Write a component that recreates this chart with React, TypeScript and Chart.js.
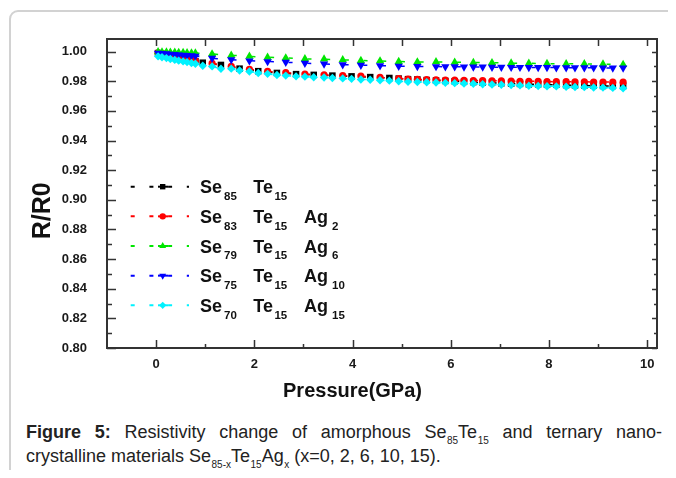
import React, { useEffect, useRef } from 'react';
import { Chart, registerables } from 'chart.js';
import { drawPoint } from 'chart.js/helpers';

Chart.register(...registerables);

// ---------------- data ----------------
const BLACK_X = [0.04, 0.12, 0.21, 0.29, 0.38, 0.46, 0.55, 0.63, 0.72, 0.80,
  0.95, 1.32, 1.70, 2.08, 2.46, 2.85, 3.21, 3.59, 3.98, 4.36, 4.75,
  4.94, 5.13, 5.32, 5.51, 5.70, 5.89, 6.08, 6.27, 6.46, 6.65, 6.84, 7.03, 7.23, 7.41, 7.59, 7.78, 7.96, 8.15, 8.35, 8.53, 8.72, 8.91, 9.10, 9.30, 9.51];
const BLACK_Y = [0.9990, 0.9985, 0.9978, 0.9972, 0.9965, 0.9958, 0.9952, 0.9946, 0.9940, 0.9935,
  0.9925, 0.9910, 0.9885, 0.9868, 0.9856, 0.9848, 0.9843, 0.9838, 0.9833, 0.9828, 0.9822,
  0.9818, 0.9814, 0.9812, 0.9808, 0.9806, 0.9802, 0.9800, 0.9796, 0.9794, 0.9790, 0.9789, 0.9786, 0.9783, 0.9782, 0.9779, 0.9779, 0.9776, 0.9776, 0.9774, 0.9772, 0.9771, 0.9770, 0.9768, 0.9768, 0.9767];

const RED_X = [0.04, 0.12, 0.21, 0.29, 0.38, 0.46, 0.55, 0.63, 0.72, 0.80,
  1.14, 1.53, 1.90, 2.27, 2.64, 3.03, 3.42, 3.80, 4.17, 4.56,
  4.94, 5.13, 5.32, 5.51, 5.70, 5.89, 6.08, 6.27, 6.46, 6.65, 6.84, 7.03, 7.23, 7.41, 7.59, 7.78, 7.96, 8.15, 8.35, 8.53, 8.72, 8.91, 9.10, 9.30, 9.51];
const RED_Y = [0.9992, 0.9987, 0.9980, 0.9973, 0.9966, 0.9960, 0.9954, 0.9948, 0.9943, 0.9938,
  0.9920, 0.9900, 0.9881, 0.9866, 0.9858, 0.9848, 0.9843, 0.9838, 0.9835, 0.9826,
  0.9818, 0.9815, 0.9813, 0.9811, 0.9810, 0.9808, 0.9807, 0.9806, 0.9805, 0.9804, 0.9803, 0.9802, 0.9801, 0.9800, 0.9800, 0.9799, 0.9798, 0.9797, 0.9797, 0.9796, 0.9796, 0.9795, 0.9795, 0.9794, 0.9794];

const GREEN_X = [0.04, 0.12, 0.21, 0.29, 0.38, 0.46, 0.55, 0.63, 0.72, 0.80,
  1.14, 1.53, 1.90, 2.27, 2.64, 3.03, 3.42, 3.80, 4.17, 4.56, 4.94, 5.32, 5.70, 6.08, 6.46, 6.84, 7.23, 7.59, 7.96, 8.35, 8.72, 9.10, 9.51];
const GREEN_Y = [0.9998, 0.9997, 0.9997, 0.9996, 0.9995, 0.9994, 0.9993, 0.9992, 0.9991, 0.9990,
  0.9984, 0.9975, 0.9968, 0.9962, 0.9957, 0.9951, 0.9949, 0.9944, 0.9940, 0.9937, 0.9933, 0.9930, 0.9931, 0.9928, 0.9926, 0.9925, 0.9922, 0.9921, 0.9919, 0.9918, 0.9917, 0.9916, 0.9912];

const BLUE_X = [0.04, 0.12, 0.21, 0.29, 0.38, 0.46, 0.55, 0.63, 0.72, 0.80,
  1.14, 1.53, 1.90, 2.27, 2.64, 3.03, 3.42, 3.80, 4.17, 4.56, 4.94, 5.32,
  5.70, 5.89, 6.08, 6.27, 6.46, 6.65, 6.84, 7.03, 7.23, 7.41, 7.59, 7.78, 7.96, 8.15, 8.35, 8.53, 8.72, 8.91, 9.10, 9.30, 9.51];
const BLUE_Y = [0.9990, 0.9988, 0.9986, 0.9983, 0.9981, 0.9978, 0.9976, 0.9974, 0.9972, 0.9970,
  0.9955, 0.9945, 0.9938, 0.9933, 0.9928, 0.9922, 0.9917, 0.9912, 0.9909, 0.9905, 0.9902, 0.9900,
  0.9899, 0.9898, 0.9898, 0.9897, 0.9896, 0.9896, 0.9895, 0.9895, 0.9894, 0.9894, 0.9893, 0.9893, 0.9893, 0.9892, 0.9892, 0.9891, 0.9891, 0.9891, 0.9890, 0.9890, 0.9890];

const CYAN_X = [0.04, 0.12, 0.21, 0.29, 0.38, 0.46, 0.55, 0.63, 0.72, 0.80,
  0.95, 1.14, 1.32, 1.53, 1.70, 1.90, 2.08, 2.27, 2.46, 2.64, 2.85, 3.03, 3.21, 3.42, 3.59, 3.80, 3.98, 4.17, 4.36, 4.56, 4.75,
  4.94, 5.13, 5.32, 5.51, 5.70, 5.89, 6.08, 6.27, 6.46, 6.65, 6.84, 7.03, 7.23, 7.41, 7.59, 7.78, 7.96, 8.15, 8.35, 8.53, 8.72, 8.91, 9.10, 9.30, 9.51];
const CYAN_Y = [0.9968, 0.9962, 0.9956, 0.9950, 0.9944, 0.9939, 0.9934, 0.9929, 0.9923, 0.9918,
  0.9905, 0.9900, 0.9884, 0.9885, 0.9872, 0.9866, 0.9856, 0.9850, 0.9842, 0.9838, 0.9833, 0.9831, 0.9827, 0.9825, 0.9822, 0.9819, 0.9816, 0.9812, 0.9810, 0.9807, 0.9804,
  0.9800, 0.9797, 0.9795, 0.9793, 0.9791, 0.9789, 0.9787, 0.9785, 0.9783, 0.9780, 0.9778, 0.9776, 0.9774, 0.9772, 0.9770, 0.9768, 0.9766, 0.9765, 0.9763, 0.9761, 0.9760, 0.9758, 0.9757, 0.9755, 0.9753];

const ELEMENTS = ['Se', 'Te', 'Ag'];
const SUBSCRIPTS = [
  ['85', '15', ''],
  ['83', '15', '2'],
  ['79', '15', '6'],
  ['75', '15', '10'],
  ['70', '15', '15'],
];

const X_MAJOR_TICKS = [0, 2, 4, 6, 8, 10];
const X_MINOR_TICKS = [1, 3, 5, 7, 9];
const Y_MAJOR_TICKS = [0.80, 0.82, 0.84, 0.86, 0.88, 0.90, 0.92, 0.94, 0.96, 0.98, 1.00];
const Y_MINOR_TICKS = [0.81, 0.83, 0.85, 0.87, 0.89, 0.91, 0.93, 0.95, 0.97, 0.99];

const X_TITLE = 'Pressure(GPa)';
const Y_TITLE = 'R/R0';

// ---------------- styles ----------------
const FONT = "'Liberation Sans', Arial, Helvetica, sans-serif";
const SERIES = [
  { x: BLACK_X, y: BLACK_Y, color: '#000000', style: 'rect', rotation: 0, radius: 4.6, legendRadius: 3.8 },
  { x: RED_X, y: RED_Y, color: '#ff0000', style: 'circle', rotation: 0, radius: 3.6, legendRadius: 3.2 },
  { x: GREEN_X, y: GREEN_Y, color: '#00e600', style: 'triangle', rotation: 0, radius: 4.8, legendRadius: 4 },
  { x: BLUE_X, y: BLUE_Y, color: '#0000ff', style: 'triangle', rotation: 180, radius: 4.8, legendRadius: 4 },
  { x: CYAN_X, y: CYAN_Y, color: '#00f2ff', style: 'rectRot', rotation: 0, radius: 4.2, legendRadius: 3.6 },
];
const FRAME_COLOR = '#333333';

const overlayPlugin = {
  id: 'overlay',
  afterDraw(chart: any) {
    const ctx: CanvasRenderingContext2D = chart.ctx;
    const { left, right, top, bottom } = chart.chartArea;
    const xs = chart.scales.x;
    const ys = chart.scales.y;
    ctx.save();
    // frame
    ctx.strokeStyle = FRAME_COLOR;
    ctx.lineWidth = 2;
    ctx.setLineDash([]);
    ctx.strokeRect(left, top, right - left, bottom - top);
    // ticks
    ctx.lineWidth = 1.5;
    const hTick = (v: number, lenB: number, lenT: number) => {
      const px = Math.round(xs.getPixelForValue(v)) + 0.5;
      ctx.beginPath();
      ctx.moveTo(px, bottom); ctx.lineTo(px, bottom - lenB);
      ctx.moveTo(px, top); ctx.lineTo(px, top + lenT);
      ctx.stroke();
    };
    X_MAJOR_TICKS.forEach((v) => hTick(v, 8, 7));
    X_MINOR_TICKS.forEach((v) => hTick(v, 4, 7));
    const vTick = (v: number, lenL: number, lenR: number) => {
      const py = Math.round(ys.getPixelForValue(v)) + 0.5;
      ctx.beginPath();
      ctx.moveTo(left, py); ctx.lineTo(left + lenL, py);
      ctx.moveTo(right, py); ctx.lineTo(right - lenR, py);
      ctx.stroke();
    };
    Y_MAJOR_TICKS.forEach((v) => vTick(v, 9, 5));
    Y_MINOR_TICKS.forEach((v) => vTick(v, 5, 3));

    // axis titles
    ctx.fillStyle = '#111';
    ctx.font = `bold 20px ${FONT}`;
    ctx.textAlign = 'center';
    ctx.textBaseline = 'alphabetic';
    ctx.fillText(X_TITLE, 352.5, 397.3);
    ctx.save();
    ctx.translate(50, 210.8);
    ctx.rotate(-Math.PI / 2);
    ctx.font = `bold 25px ${FONT}`;
    ctx.fillText(Y_TITLE, 0, 0);
    ctx.restore();

    // legend
    SERIES.forEach((s, i) => {
      const rowY = 186.7 + i * 29.65;
      ctx.strokeStyle = s.color;
      ctx.fillStyle = s.color;
      ctx.lineWidth = 2;
      ctx.setLineDash([4, 14.7]);
      ctx.beginPath();
      ctx.moveTo(130.7, rowY);
      ctx.lineTo(189, rowY);
      ctx.stroke();
      ctx.setLineDash([]);
      ctx.beginPath();
      ctx.moveTo(158, rowY);
      ctx.lineTo(168, rowY);
      ctx.stroke();
      drawPoint(ctx, { pointStyle: s.style as any, rotation: s.rotation, radius: s.legendRadius, borderWidth: 0 } as any, 162.7, rowY);

      ctx.fillStyle = '#111';
      ctx.textAlign = 'left';
      const starts = [200, 253.3, 304];
      const gaps = [2, 1.5, 4];
      ELEMENTS.forEach((el, j) => {
        const sub = SUBSCRIPTS[i][j];
        if (!sub) return;
        ctx.font = `bold 18px ${FONT}`;
        ctx.fillText(el, starts[j], rowY + 6.6);
        const w = ctx.measureText(el).width;
        ctx.font = `bold 11.5px ${FONT}`;
        ctx.fillText(sub, starts[j] + w + gaps[j], rowY + 13.3);
      });
    });
    ctx.restore();
  },
};

export default function App() {
  const ref = useRef<HTMLCanvasElement>(null);

  useEffect(() => {
    const canvas = ref.current;
    if (!canvas) return;
    const datasets = SERIES.map((s, i) => ({
      label: ELEMENTS.map((e, j) => (SUBSCRIPTS[i][j] ? e + SUBSCRIPTS[i][j] : '')).join(''),
      data: s.x.map((x, k) => ({ x, y: s.y[k] })),
      showLine: true,
      borderColor: s.color,
      backgroundColor: s.color,
      borderWidth: 1.5,
      borderDash: [4, 14.7],
      tension: 0,
      fill: false,
      pointStyle: s.style,
      pointRotation: s.rotation,
      pointRadius: s.radius,
      pointBorderWidth: 0,
      pointBackgroundColor: s.color,
      pointBorderColor: s.color,
      order: SERIES.length - i,
    }));
    const tickFont = { family: FONT, size: 13, weight: 'bold' as const };
    const chart = new Chart(canvas, {
      type: 'line',
      data: { datasets },
      plugins: [overlayPlugin],
      options: {
        animation: false,
        responsive: false,
        devicePixelRatio: 1,
        layout: { padding: { left: 0, right: 19, top: 39, bottom: 0 } },
        plugins: { legend: { display: false }, tooltip: { enabled: false }, title: { display: false } },
        events: [],
        scales: {
          x: {
            type: 'linear',
            min: -1,
            max: 10.2,
            grid: { display: false, drawTicks: false },
            border: { display: false },
            afterBuildTicks: (s: any) => { s.ticks = X_MAJOR_TICKS.map((v) => ({ value: v })); },
            afterFit: (s: any) => { s.height = 57; },
            ticks: {
              font: tickFont,
              color: '#1a1a1a',
              padding: 9,
              maxRotation: 0,
              autoSkip: false,
              callback: (v: any) => String(v),
            },
          },
          y: {
            type: 'linear',
            min: 0.8,
            max: 1.0085,
            grid: { display: false, drawTicks: false },
            border: { display: false },
            afterBuildTicks: (s: any) => { s.ticks = Y_MAJOR_TICKS.map((v) => ({ value: v })); },
            afterFit: (s: any) => { s.width = 107; },
            ticks: {
              font: tickFont,
              color: '#1a1a1a',
              padding: 20,
              autoSkip: false,
              callback: (v: any) => Number(v).toFixed(2),
            },
          },
        },
      } as any,
    });
    return () => chart.destroy();
  }, []);

  const subStyle: React.CSSProperties = { fontSize: 10, position: 'relative', top: 6, lineHeight: 0, marginLeft: 0.5 };
  const lineStyle: React.CSSProperties = {
    position: 'absolute', left: 26, width: 636, fontFamily: FONT, fontSize: 18, lineHeight: '20px',
    color: '#222', whiteSpace: 'nowrap',
  };

  return (
    <div style={{ position: 'relative', width: 676, height: 478, margin: -8, overflow: 'hidden', background: '#fff' }}>
      <div style={{ position: 'absolute', left: 9, top: 10, width: 720, height: 520, border: '2px solid #d2d2d2', borderRadius: 9, boxSizing: 'border-box' }} />
      <canvas ref={ref} width={676} height={405} style={{ position: 'absolute', left: 0, top: 0, width: 676, height: 405, display: 'block' }} />
      <div style={{ ...lineStyle, top: 422, whiteSpace: 'normal', textAlign: 'justify', textAlignLast: 'justify' as any }}>
        <b>Figure 5:</b> Resistivity change of amorphous Se<span style={subStyle}>85</span>Te<span style={subStyle}>15</span> and ternary nano-
      </div>
      <div style={{ ...lineStyle, top: 445.5 }}>
        crystalline materials Se<span style={subStyle}>85-x</span>Te<span style={subStyle}>15</span>Ag<span style={subStyle}>x</span> (x=0, 2, 6, 10, 15).
      </div>
    </div>
  );
}
